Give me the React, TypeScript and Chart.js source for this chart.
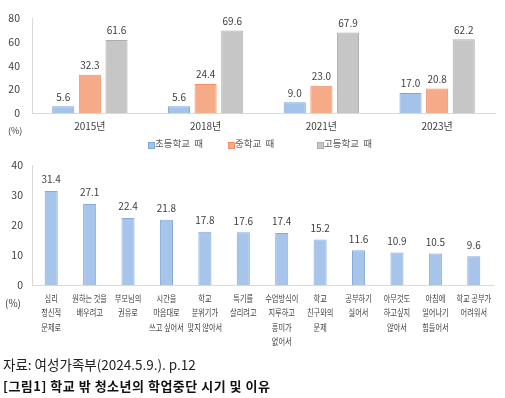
import React, { useEffect, useRef } from "react";
import { Chart, registerables } from "chart.js";

Chart.register(...registerables);

const FONT = "'Noto Sans CJK KR', 'Noto Sans', sans-serif";

// Top chart data
const years = ["2015년", "2018년", "2021년", "2023년"];
const seriesNames = ["초등학교  때", "중학교  때", "고등학교  때"];
const elementary = [5.6, 5.6, 9.0, 17.0];
const middleSchool = [32.3, 24.4, 23.0, 20.8];
const highSchool = [61.6, 69.6, 67.9, 62.2];
const topTicks = [0, 20, 40, 60, 80];

// Bottom chart data
const reasons = [
  ["심리", "정신적", "문제로"],
  ["원하는 것을", "배우려고"],
  ["부모님의", "권유로"],
  ["시간을", "마음대로", "쓰고 싶어서"],
  ["학교", "분위기가", "맞지 않아서"],
  ["특기를", "살리려고"],
  ["수업방식이", "지루하고", "흥미가", "없어서"],
  ["학교", "친구와의", "문제"],
  ["공부하기", "싫어서"],
  ["아무것도", "하고싶지", "않아서"],
  ["아침에", "일어나기", "힘들어서"],
  ["학교 공부가", "어려워서"],
];
const reasonValues = [31.4, 27.1, 22.4, 21.8, 17.8, 17.6, 17.4, 15.2, 11.6, 10.9, 10.5, 9.6];
const bottomTicks = [0, 10, 20, 30, 40];

const seriesColors = ["#a3c3ea", "#f5ab88", "#c6c6c6"];
const seriesBorders = ["#7fa6d9", "#ee9068", "#adadad"];

function valueLabels(offset: number, size: number) {
  return {
    id: "valueLabels",
    afterDatasetsDraw(chart: any) {
      const ctx = chart.ctx;
      ctx.save();
      ctx.font = `${size}px ${FONT}`;
      ctx.fillStyle = "#404040";
      ctx.textAlign = "center";
      ctx.textBaseline = "middle";
      chart.data.datasets.forEach((ds: any, di: number) => {
        const meta = chart.getDatasetMeta(di);
        meta.data.forEach((el: any, i: number) => {
          ctx.fillText(Number(ds.data[i]).toFixed(1), el.x, el.y - offset);
        });
      });
      ctx.restore();
    },
  };
}

// condensed multi-line category labels drawn at the x scale's tick pixels
const condensedLabels = {
  id: "condensedLabels",
  afterDraw(chart: any) {
    const ctx = chart.ctx;
    const xs = chart.scales.x;
    const labels = chart.data.labels as string[][];
    const lineH = 14.5;
    const sx = 0.8;
    ctx.save();
    ctx.font = `9px ${FONT}`;
    ctx.fillStyle = "#404040";
    ctx.textAlign = "center";
    ctx.textBaseline = "middle";
    labels.forEach((lines, i) => {
      const px = xs.getPixelForValue(i);
      lines.forEach((line, j) => {
        const y = xs.top + 6 + lineH / 2 + j * lineH;
        ctx.setTransform(sx, 0, 0, 1, px * (1 - sx), 0);
        ctx.fillText(line, px, y);
      });
    });
    ctx.restore();
  },
};

export default function App() {
  const topRef = useRef<HTMLCanvasElement>(null);
  const botRef = useRef<HTMLCanvasElement>(null);

  useEffect(() => {
    const top = new Chart(topRef.current!, {
      type: "bar",
      data: {
        labels: years,
        datasets: [elementary, middleSchool, highSchool].map((d, i) => ({
          label: seriesNames[i],
          data: d,
          backgroundColor: seriesColors[i],
          borderColor: seriesBorders[i],
          borderWidth: 1,
          categoryPercentage: 0.69,
          barPercentage: 0.83,
        })),
      },
      options: {
        animation: false,
        responsive: false,
        devicePixelRatio: 1,
        layout: { padding: { top: 17, right: 10, left: 0, bottom: 0 } },
        plugins: { legend: { display: false }, tooltip: { enabled: false } },
        scales: {
          x: {
            grid: { display: false, drawTicks: false },
            border: { display: true, color: "#d9d9d9" },
            ticks: { font: { family: FONT, size: 10 }, color: "#404040", padding: 7 },
            afterFit: (s: any) => { s.height = 47; },
          },
          y: {
            min: 0,
            max: 80,
            afterBuildTicks: (s: any) => { s.ticks = topTicks.map((v) => ({ value: v })); },
            grid: { display: false, drawTicks: false },
            border: { display: true, color: "#d9d9d9" },
            ticks: { font: { family: FONT, size: 10.5 }, color: "#404040", padding: 12 },
            afterFit: (s: any) => { s.width = 32; },
          },
        },
      },
      plugins: [valueLabels(9.5, 10)],
    } as any);

    const bot = new Chart(botRef.current!, {
      type: "bar",
      data: {
        labels: reasons,
        datasets: [
          {
            label: "이유",
            data: reasonValues,
            backgroundColor: "#a7c4ea",
            borderColor: "#86aadb",
            borderWidth: 1,
            categoryPercentage: 1,
            barPercentage: 0.34,
          },
        ],
      },
      options: {
        animation: false,
        responsive: false,
        devicePixelRatio: 1,
        layout: { padding: { top: 15, right: 12, left: 0, bottom: 0 } },
        plugins: { legend: { display: false }, tooltip: { enabled: false } },
        scales: {
          x: {
            grid: { display: false, drawTicks: false },
            border: { display: true, color: "#d9d9d9" },
            ticks: { display: false },
            afterFit: (s: any) => { s.height = 65; },
          },
          y: {
            min: 0,
            max: 40,
            afterBuildTicks: (s: any) => { s.ticks = bottomTicks.map((v) => ({ value: v })); },
            grid: { display: false, drawTicks: false },
            border: { display: true, color: "#d9d9d9" },
            ticks: { font: { family: FONT, size: 10.5 }, color: "#404040", padding: 9 },
            afterFit: (s: any) => { s.width = 32; },
          },
        },
      },
      plugins: [valueLabels(11.5, 10), condensedLabels],
    } as any);

    return () => {
      top.destroy();
      bot.destroy();
    };
  }, []);

  const abs = (l: number, t: number, extra: any = {}) => ({
    position: "absolute" as const,
    left: l,
    top: t,
    whiteSpace: "pre" as const,
    lineHeight: 1,
    fontFamily: FONT,
    ...extra,
  });

  const legendX = [148, 228, 317];

  return (
    <div style={{ position: "fixed", left: 0, top: 0, width: 505, height: 398, background: "#fff", overflow: "hidden" }}>
      <canvas ref={topRef} width={505} height={160} style={{ position: "absolute", left: 0, top: 0, width: 505, height: 160 }} />
      <canvas ref={botRef} width={505} height={200} style={{ position: "absolute", left: 0, top: 150, width: 505, height: 200 }} />
      <div style={abs(8, 126, { fontSize: 9, color: "#404040" })}>(%)</div>
      <div style={abs(5, 298, { fontSize: 10, color: "#404040" })}>(%)</div>
      {seriesNames.map((n, i) => (
        <React.Fragment key={n}>
          <div style={{ position: "absolute", left: legendX[i], top: 142, width: 5, height: 5, background: seriesColors[i], border: `0.5px solid ${seriesBorders[i]}` }} />
          <div style={abs(legendX[i] + 7, 139, { fontSize: 9.5, color: "#595959" })}>{n}</div>
        </React.Fragment>
      ))}
      <div style={abs(3, 358, { fontSize: 13.5, color: "#222" })}>자료: 여성가족부(2024.5.9.). p.12</div>
      <div style={abs(3, 379, { fontSize: 13, color: "#111", fontWeight: "bold", letterSpacing: "0.5px" })}>[그림1] 학교 밖 청소년의 학업중단 시기 및 이유</div>
    </div>
  );
}
